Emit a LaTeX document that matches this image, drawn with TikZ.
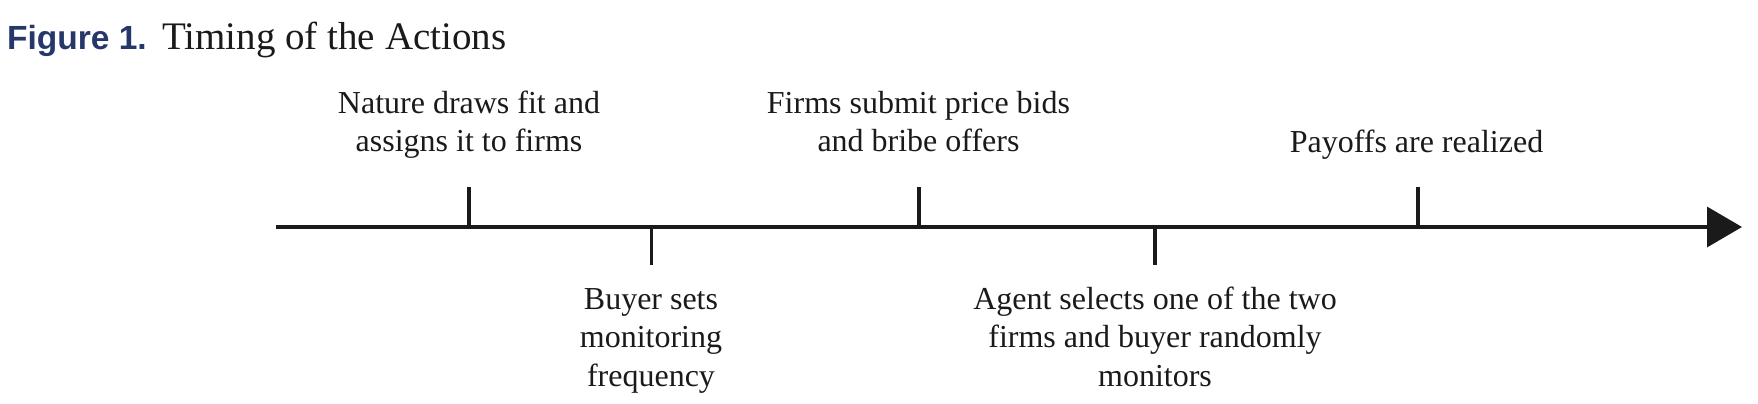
\documentclass[tikz,border=0pt]{standalone}
\usepackage{fontspec}
\setmainfont{Liberation Serif}
\newfontfamily\figsans{Liberation Sans}
\usetikzlibrary{arrows.meta}
\definecolor{fignavy}{RGB}{38,56,105}
\definecolor{ink}{RGB}{26,26,26}
\tikzset{
  axisline/.style={line width=3.5pt, draw=ink, -{Triangle[length=35pt,width=40pt]}},
  tickline/.style={line width=3.5pt, draw=ink},
  evlabel/.style={anchor=base, inner sep=0pt, text=ink,
    font=\fontsize{32}{38.5}\selectfont},
}
\newcommand{\lines}[1]{\begin{tabular}[t]{@{}c@{}}#1\end{tabular}}
\begin{document}
\begin{tikzpicture}[x=1pt,y=-1pt]
\useasboundingbox (0,0) rectangle (1758,404);
% title
\node[anchor=base west, inner sep=0pt, text=fignavy,
  font=\figsans\bfseries\fontsize{33.5}{38}\selectfont] (fig) at (7,50) {Figure 1.};
\node[anchor=base west, inner sep=0pt, text=ink,
  font=\fontsize{39}{44}\selectfont] (title) at (162,50) {Timing of the Actions};
% axis
\coordinate (start) at (276,227);
\coordinate (end) at (1742,227);
\draw[axisline] (start) -- (end);
% ticks
\coordinate (t1) at (469,227);   \coordinate (t1e) at (469,187);
\coordinate (t2) at (651.5,227); \coordinate (t2e) at (651.5,265);
\coordinate (t3) at (919,227);   \coordinate (t3e) at (919,187);
\coordinate (t4) at (1155,227);  \coordinate (t4e) at (1155,265);
\coordinate (t5) at (1418,227);  \coordinate (t5e) at (1418,187);
\foreach \a/\b in {t1/t1e,t2/t2e,t3/t3e,t4/t4e,t5/t5e}
  \draw[tickline] (\a) -- (\b);
% labels
\node[evlabel] (nature) at (469,113.3) {\lines{Nature draws fit and\\ assigns it to firms}};
\node[evlabel] (buyer) at (651,309.3) {\lines{Buyer sets\\ monitoring\\ frequency}};
\node[evlabel] (firms) at (918.5,113.3) {\lines{Firms submit price bids\\ and bribe offers}};
\node[evlabel] (agent) at (1155,309.3) {\lines{Agent selects one of the two\\ firms and buyer randomly\\ monitors}};
\node[evlabel] (payoffs) at (1416.5,152.5) {\lines{Payoffs are realized}};
\end{tikzpicture}
\end{document}
